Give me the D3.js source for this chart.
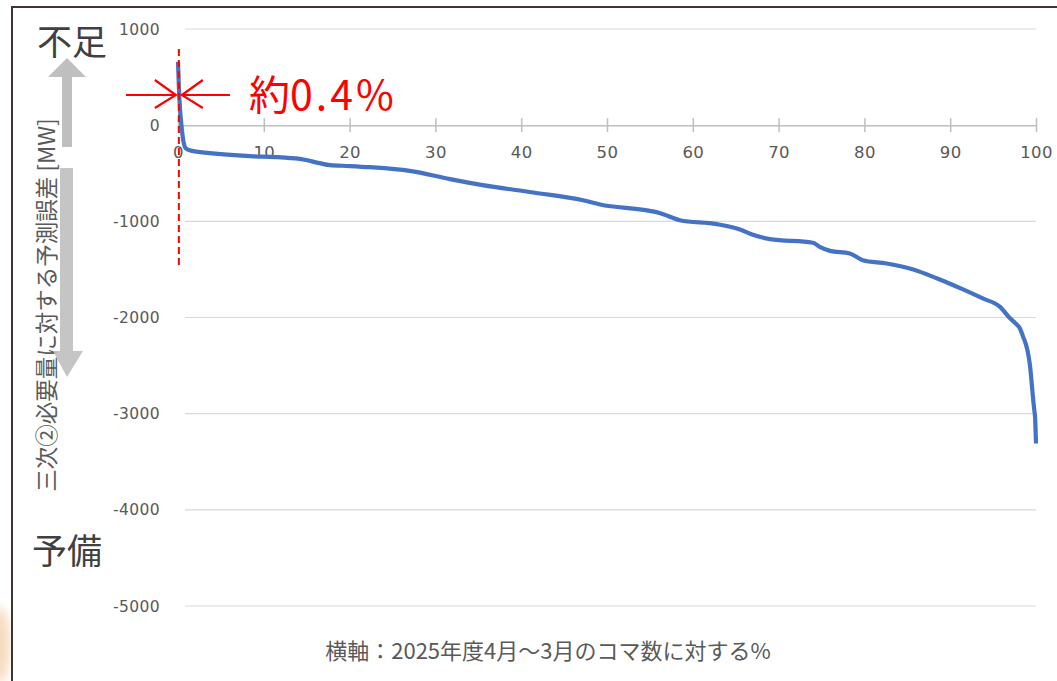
<!DOCTYPE html>
<html>
<head>
<meta charset="utf-8">
<script src="https://cdn.jsdelivr.net/npm/d3@7"></script>
<style>
  body { margin: 0; background: #fff; }
  svg { display: block; font-family: "Noto Sans CJK JP", "Noto Sans", sans-serif; }
</style>
</head>
<body>
<div class="svg-container"></div>
<script>
// % of slots (x) vs forecast error in MW (y)
const pct = [0, 0.1, 0.25, 0.4, 0.6, 0.9, 1.5, 3.7, 8.4, 12, 14.6, 16.5, 17.7, 20, 22.4, 27,
  31.7, 34, 35.5, 41.4, 47.2, 49.2, 55, 56.2, 58.5, 62.8, 65.5, 67, 69, 74, 74.8, 76, 78.3,
  79.8, 82.6, 85.7, 88.5, 91.5, 93.8, 95.8, 97, 97.6, 98.1, 98.5, 99, 99.3, 99.5, 99.7, 99.8, 99.9, 100];
const errorMW = [660, 400, 150, 0, -150, -240, -265, -290, -322, -335, -357, -395, -416, -425, -437, -475,
  -561, -600, -624, -700, -780, -825, -891, -915, -988, -1029, -1085, -1140, -1185, -1223, -1265, -1307, -1334,
  -1404, -1438, -1500, -1594, -1708, -1802, -1889, -2010, -2059, -2110, -2200, -2340, -2500, -2683, -2880, -2960, -3050, -3310];

const xTicks = [0, 10, 20, 30, 40, 50, 60, 70, 80, 90, 100];
const yTicks = [1000, 0, -1000, -2000, -3000, -4000, -5000];
const markerPct = 0.1;   // red dashed line position
const labelHead = '約';
const labelValue = '0.4%';
const yTitle = '三次②必要量に対する予測誤差 [MW]';
const xTitle = '横軸：2025年度4月～3月のコマ数に対する%';

const width = 1057;
const height = 681;
const numFont = '"DejaVu Sans", sans-serif';

const svg = d3.select('.svg-container')
  .append('svg')
  .attr('width', width)
  .attr('height', height)

const defs = svg.append('defs');
defs.append('filter').attr('id', 'blur')
  .append('feGaussianBlur').attr('stdDeviation', 5);

// faint peach decoration peeking in at the left edge
svg.append('ellipse')
  .attr('cx', 0).attr('cy', 645)
  .attr('rx', 10).attr('ry', 38)
  .attr('fill', '#f3d2b0')
  .attr('opacity', 0.8)
  .attr('filter', 'url(#blur)');

// frame
svg.append('path')
  .attr('d', `M12,${height} L12,7 L${width},7`)
  .attr('fill', 'none')
  .attr('stroke', '#3e3533')
  .attr('stroke-width', 2);

// scales
const x = d3.scaleLinear().domain([0, 100]).range([178, 1036]);
const y = d3.scaleLinear().domain([1000, -5000]).range([29, 606]);

// gridlines
svg.append('g')
  .selectAll('line')
  .data(yTicks.filter(d => d !== 0))
  .enter()
  .append('line')
  .attr('x1', x(0) + 7)
  .attr('x2', x(100))
  .attr('y1', d => y(d))
  .attr('y2', d => y(d))
  .attr('stroke', '#d9d9d9')
  .attr('stroke-width', 1.2);

// y tick labels
svg.append('g')
  .selectAll('text')
  .data(yTicks)
  .enter()
  .append('text')
  .attr('x', 160)
  .attr('y', d => y(d))
  .attr('dy', '0.36em')
  .attr('text-anchor', 'end')
  .attr('fill', '#595959')
  .style('font-family', numFont)
  .style('font-size', '15.5px')
  .style('letter-spacing', '0.4px')
  .text(d => d);

// x axis at zero
const xAxis = d3.axisBottom(x)
  .tickValues(xTicks)
  .tickSize(6)
  .tickSizeOuter(0)
  .tickPadding(15);

const gx = svg.append('g')
  .attr('transform', `translate(0,${y(0)})`)
  .call(xAxis);

gx.select('.domain').attr('stroke', '#bfbfbf').attr('stroke-width', 1.5);
gx.selectAll('.tick line')
  .attr('y1', -7)
  .attr('y2', 7)
  .attr('stroke', '#bfbfbf')
  .attr('stroke-width', 1.5);
gx.selectAll('.tick text')
  .attr('fill', '#595959')
  .style('font-family', numFont)
  .style('font-size', '16.5px')
  .style('letter-spacing', '0.4px');

// curve
const line = d3.line()
  .x((d, i) => x(pct[i]))
  .y(d => y(d))
  .curve(d3.curveMonotoneX);

svg.append('path')
  .datum(errorMW)
  .attr('d', line)
  .attr('fill', 'none')
  .attr('stroke', '#4472c4')
  .attr('stroke-width', 4.2)
  .attr('stroke-linejoin', 'round');

// red dashed marker
svg.append('line')
  .attr('x1', x(markerPct)).attr('x2', x(markerPct))
  .attr('y1', 49).attr('y2', 268)
  .attr('stroke', '#ff0000')
  .attr('stroke-width', 2)
  .attr('stroke-dasharray', '7,4');

// red arrows pointing at the marker
const red = svg.append('g')
  .attr('fill', 'none')
  .attr('stroke', '#ff0000')
  .attr('stroke-width', 2.2);
const ay = 95;
const mx = x(markerPct);
red.append('path').attr('d', `M126,${ay} L${mx - 3},${ay} M${mx - 24},${ay - 15} L${mx - 3},${ay} L${mx - 24},${ay + 13}`);
red.append('path').attr('d', `M230,${ay} L${mx + 3},${ay} M${mx + 24},${ay - 15} L${mx + 3},${ay} L${mx + 24},${ay + 13}`);

const label = svg.append('text')
  .attr('x', 249)
  .attr('y', 110)
  .attr('fill', '#ff0000')
  .style('font-size', '41px');
label.append('tspan').text(labelHead);
label.append('tspan')
  .style('letter-spacing', '3px')
  .text(labelValue);

// y axis title
svg.append('text')
  .attr('transform', 'translate(47,305) rotate(-90)')
  .attr('text-anchor', 'middle')
  .attr('dy', '0.35em')
  .attr('fill', '#595959')
  .style('font-size', '22.5px')
  .text(yTitle);

// grey up / down arrows
const grey = '#bfbfbf';
svg.append('path')
  .attr('d', 'M62,147 L62,77 L48,77 L67,58 L86,77 L72,77 L72,147 Z')
  .attr('fill', grey);
svg.append('path')
  .attr('d', 'M60,168 L73,168 L73,351 L83,351 L67,377 L53,351 L60,351 Z')
  .attr('fill', grey)
  .attr('opacity', 0.9);

// 不足 / 予備
svg.append('text')
  .attr('x', 37).attr('y', 55)
  .attr('fill', '#404040')
  .style('font-size', '35px')
  .text('不足');
svg.append('text')
  .attr('x', 32).attr('y', 564)
  .attr('fill', '#404040')
  .style('font-size', '35px')
  .text('予備');

// x axis title
svg.append('text')
  .attr('x', 548)
  .attr('y', 651)
  .attr('dy', '0.35em')
  .attr('text-anchor', 'middle')
  .attr('fill', '#595959')
  .style('font-size', '22px')
  .text(xTitle);
</script>
</body>
</html>
